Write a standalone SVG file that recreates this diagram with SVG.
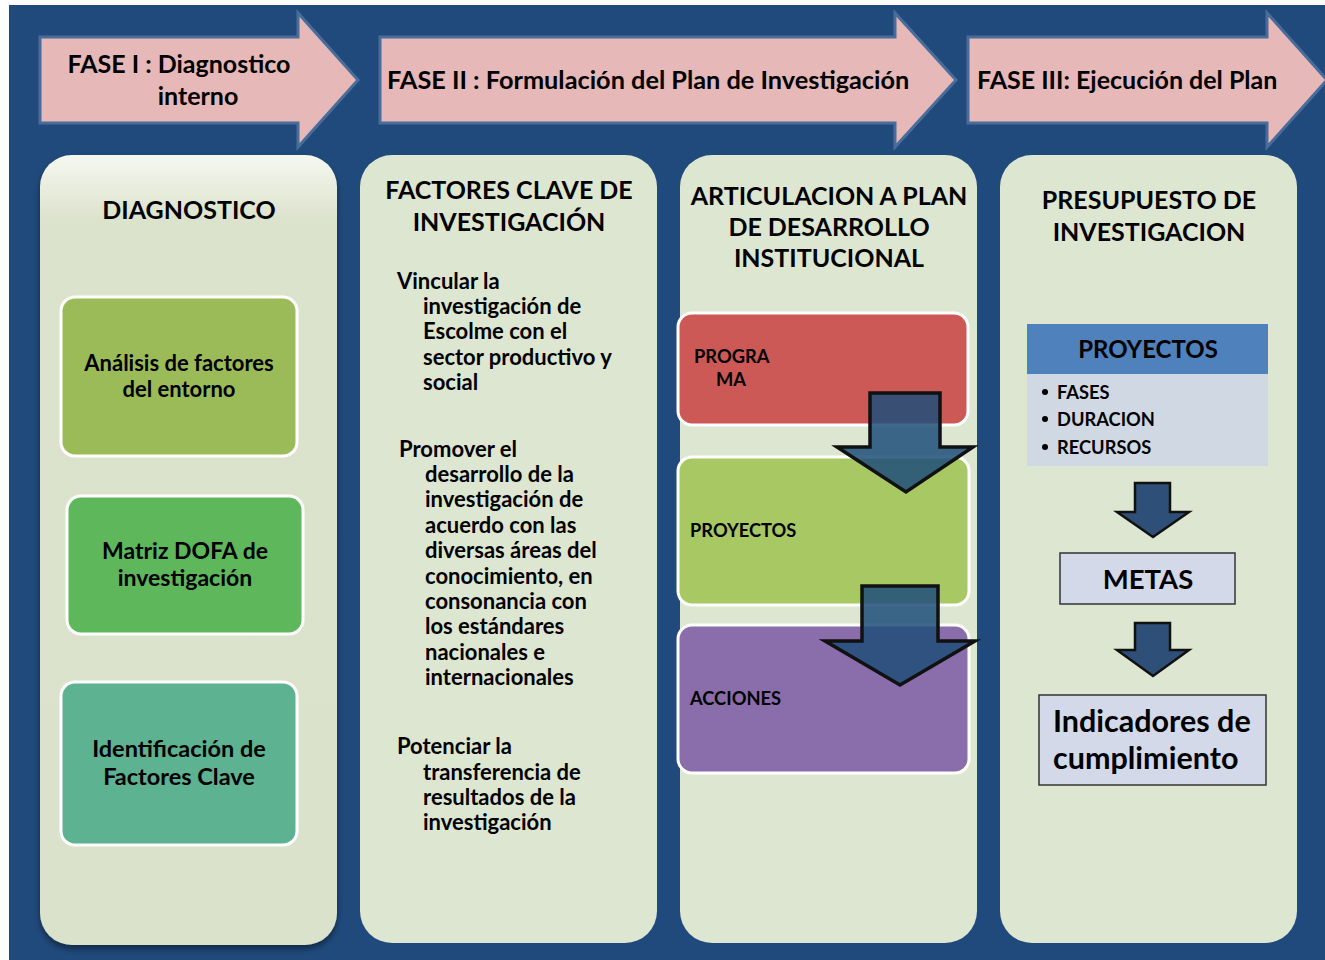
<svg xmlns="http://www.w3.org/2000/svg" width="1325" height="960" viewBox="0 0 1325 960">
<defs>
<style>
text{font-family:Lato,"Liberation Sans",sans-serif;font-weight:700;fill:#000}
.phase{fill:#E6B8B7;stroke:#4A6C9B;stroke-width:3}
.panel{fill:#DDE6D1}
.box{stroke:#fff;stroke-width:3}
.title{font-size:25px;text-anchor:middle}
.ph{font-size:25px}
.bt{font-size:22px;text-anchor:middle}
.ft{font-size:22px}
.sm{font-size:18.3px}
.darr{fill:#1F4E79;fill-opacity:0.85;stroke:#111;stroke-width:3.5}
.sarr{fill:#2E4F77;stroke:#111;stroke-width:2.5}
.lbox{fill:#D3D9E9;stroke:#333;stroke-width:1.5}
</style>
<linearGradient id="g1" x1="0" y1="0" x2="0" y2="1">
<stop offset="0" stop-color="#F6F8F0"/>
<stop offset="0.08" stop-color="#DCE3CD"/>
<stop offset="1" stop-color="#DAE2CC"/>
</linearGradient>
<filter id="sh" x="-10%" y="-10%" width="120%" height="120%">
<feDropShadow dx="0" dy="4" stdDeviation="3" flood-color="#000" flood-opacity="0.45"/>
</filter>
</defs>
<rect x="0" y="0" width="1325" height="960" fill="#fff"/>
<rect x="9" y="5" width="1316" height="955" fill="#204A7C"/>

<g id="fase1">
<path class="phase" d="M40,37 H298 V13 L358,80 L298,147 V123 H40 Z"/>
<text class="ph" x="179" y="73" text-anchor="middle">FASE I : Diagnostico</text>
<text class="ph" x="198" y="105" text-anchor="middle">interno</text>
</g>
<g id="fase2">
<path class="phase" d="M380,37 H895 V13 L956,80 L895,147 V123 H380 Z"/>
<text class="ph" x="387" y="89" style="font-size:25.3px">FASE II : Formulación del Plan de Investigación</text>
</g>
<g id="fase3">
<path class="phase" d="M968,37 H1267 V13 L1327,80 L1267,147 V123 H968 Z"/>
<text class="ph" x="977" y="89">FASE III: Ejecución del Plan</text>
</g>

<g id="diagnostico">
<rect x="40" y="155" width="297" height="790" rx="32" fill="url(#g1)" filter="url(#sh)"/>
<text class="title" x="189" y="219">DIAGNOSTICO</text>
</g>
<g id="analisis">
<rect class="box" x="61" y="297" width="236" height="159" rx="14" fill="#9BBB59"/>
<text class="bt" x="179" y="371">Análisis de factores</text>
<text class="bt" x="179" y="397">del entorno</text>
</g>
<g id="dofa">
<rect class="box" x="67" y="496" width="236" height="138" rx="14" fill="#5FB75C"/>
<text class="bt" x="185" y="559" style="font-size:23px">Matriz DOFA de</text>
<text class="bt" x="185" y="586" style="font-size:23px">investigación</text>
</g>
<g id="identificacion">
<rect class="box" x="61" y="682" width="236" height="163" rx="14" fill="#5DB291"/>
<text class="bt" x="179" y="757" style="font-size:23.5px">Identificación de</text>
<text class="bt" x="179" y="785" style="font-size:23.5px">Factores Clave</text>
</g>

<g id="factores">
<rect class="panel" x="360" y="155" width="297" height="788" rx="32"/>
<text class="title" x="509" y="199">FACTORES CLAVE DE</text>
<text class="title" x="509" y="231">INVESTIGACIÓN</text>
<text class="ft" x="397" y="289">Vincular la</text>
<text class="ft" x="423" y="314">investigación de</text>
<text class="ft" x="423" y="339">Escolme con el</text>
<text class="ft" x="423" y="365">sector productivo y</text>
<text class="ft" x="423" y="390">social</text>
<text class="ft" x="399" y="457">Promover el</text>
<text class="ft" x="425" y="482">desarrollo de la</text>
<text class="ft" x="425" y="507">investigación de</text>
<text class="ft" x="425" y="533">acuerdo con las</text>
<text class="ft" x="425" y="558">diversas áreas del</text>
<text class="ft" x="425" y="584">conocimiento, en</text>
<text class="ft" x="425" y="609">consonancia con</text>
<text class="ft" x="425" y="634">los estándares</text>
<text class="ft" x="425" y="660">nacionales e</text>
<text class="ft" x="425" y="685">internacionales</text>
<text class="ft" x="397" y="754">Potenciar la</text>
<text class="ft" x="423" y="780">transferencia de</text>
<text class="ft" x="423" y="805">resultados de la</text>
<text class="ft" x="423" y="830">investigación</text>
</g>

<g id="articulacion">
<rect class="panel" x="680" y="155" width="297" height="788" rx="32"/>
<text class="title" x="829" y="205">ARTICULACION A PLAN</text>
<text class="title" x="829" y="236">DE DESARROLLO</text>
<text class="title" x="829" y="267">INSTITUCIONAL</text>
</g>
<g id="programa">
<rect class="box" x="678" y="313" width="290" height="112" rx="14" fill="#CD5957"/>
<text class="sm" x="694" y="363">PROGRA</text>
<text class="sm" x="716" y="386">MA</text>
</g>
<g id="proyectos-art">
<rect class="box" x="678" y="457" width="291" height="148" rx="14" fill="#A8C863"/>
<text class="sm" x="690" y="537">PROYECTOS</text>
</g>
<g id="acciones">
<rect class="box" x="678" y="625" width="291" height="148" rx="14" fill="#8A6DAB"/>
<text class="sm" x="690" y="705">ACCIONES</text>
</g>

<g id="presupuesto">
<rect class="panel" x="1000" y="155" width="297" height="788" rx="32"/>
<text class="title" x="1149" y="209">PRESUPUESTO DE</text>
<text class="title" x="1149" y="241">INVESTIGACION</text>
</g>
<g id="proyectos">
<rect x="1027" y="324" width="241" height="50" fill="#4F81BD"/>
<rect x="1027" y="374" width="241" height="92" fill="#D0D8E4"/>
<text x="1148" y="358" text-anchor="middle" style="font-size:24px">PROYECTOS</text>
<circle cx="1045" cy="392" r="3"/>
<circle cx="1045" cy="419" r="3"/>
<circle cx="1045" cy="447" r="3"/>
<text class="sm" x="1057" y="399">FASES</text>
<text class="sm" x="1057" y="426">DURACION</text>
<text class="sm" x="1057" y="454">RECURSOS</text>
</g>
<g id="metas">
<rect class="lbox" x="1060" y="553" width="175" height="51"/>
<text x="1148" y="589" text-anchor="middle" style="font-size:27.5px">METAS</text>
</g>
<g id="indicadores">
<rect class="lbox" x="1039" y="695" width="227" height="90"/>
<text x="1053" y="732" style="font-size:30.5px">Indicadores de</text>
<text x="1053" y="769" style="font-size:30.5px">cumplimiento</text>
</g>

<g id="connectors">
<path class="darr" d="M870,393 H940 V447 H973 L906,492 L837,447 H870 Z"/>
<path class="darr" d="M862,586 H938 V641 H975 L900,685 L825,641 H862 Z"/>
<path class="sarr" d="M1135,483 H1170 V512 H1189 L1153,537 L1117,512 H1135 Z"/>
<path class="sarr" d="M1135,623 H1170 V650 H1189 L1153,676 L1117,650 H1135 Z"/>
</g>
</svg>
